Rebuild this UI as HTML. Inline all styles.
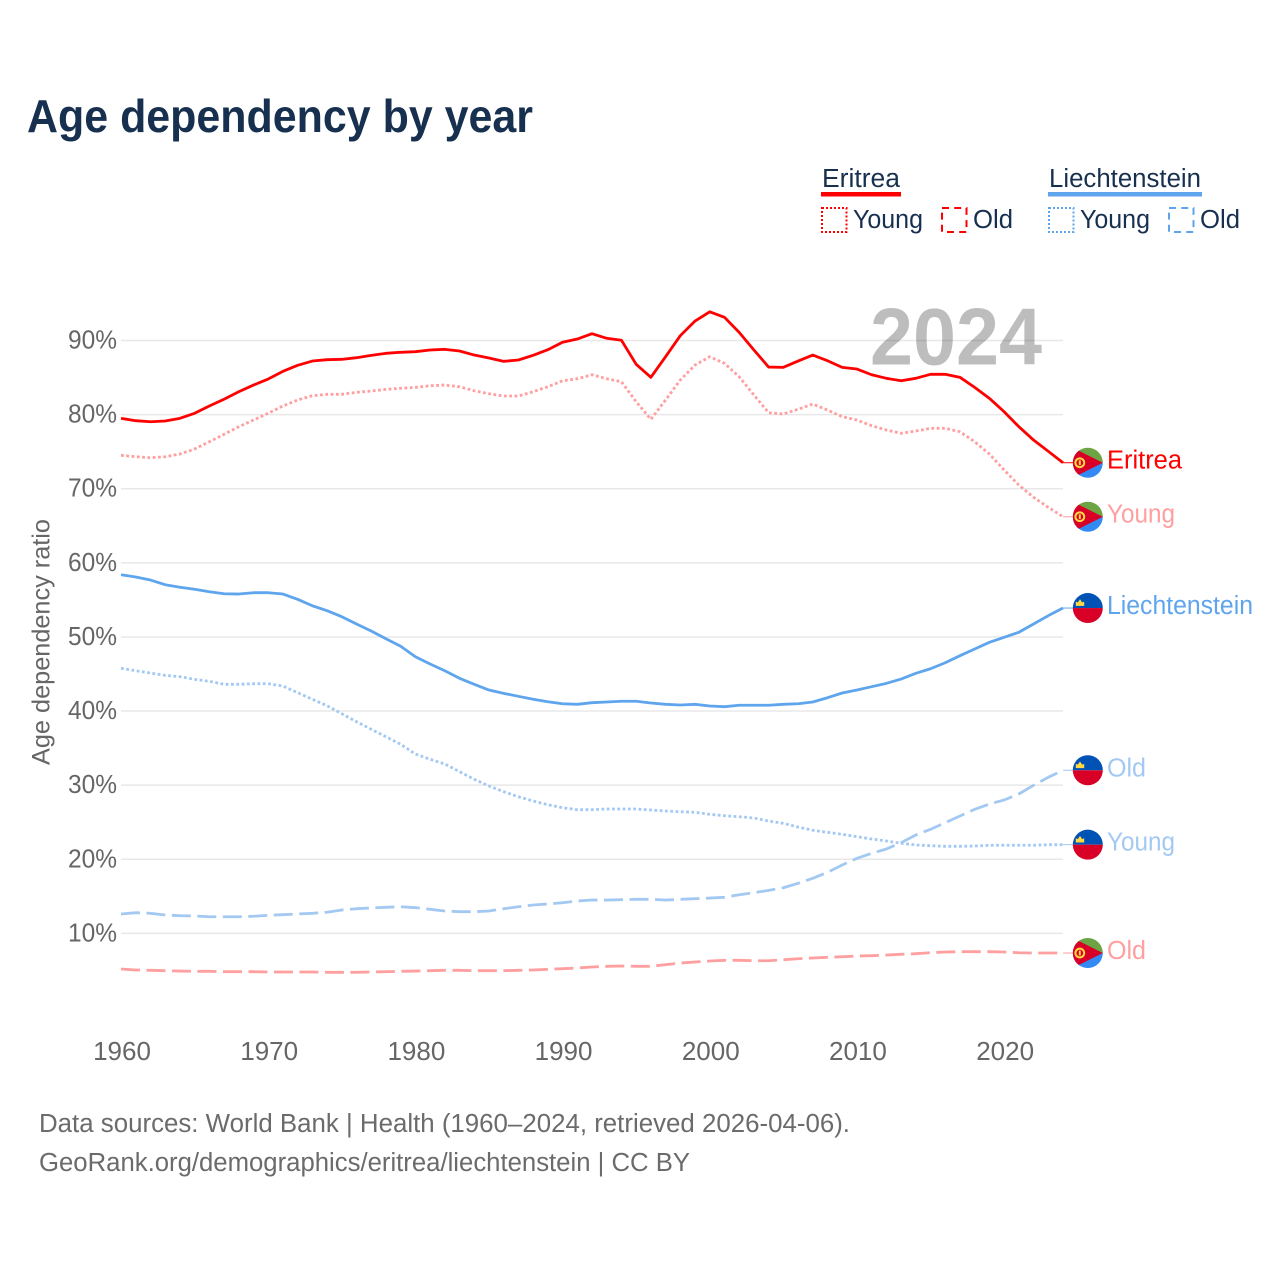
<!DOCTYPE html>
<html lang="en">
<head>
<meta charset="utf-8">
<title>Age dependency by year</title>
<style>
html,body{margin:0;padding:0;background:#fff;width:1280px;height:1280px;overflow:hidden}
svg{display:block}
text{font-family:"Liberation Sans",sans-serif}
</style>
</head>
<body>
<svg id="chart" width="1280" height="1280" viewBox="0 0 1280 1280" xmlns="http://www.w3.org/2000/svg">
  <defs>
    <clipPath id="flag-clip"><circle cx="0" cy="0" r="15"/></clipPath>
    <g id="flag-eritrea" clip-path="url(#flag-clip)">
      <rect x="-16" y="-16" width="32" height="16" fill="#6da544"/>
      <rect x="-16" y="0" width="32" height="16" fill="#338af3"/>
      <polygon points="-15,-15 15,0 -15,15" fill="#d80027"/>
      <circle cx="-8" cy="0" r="4.4" fill="none" stroke="#ffda44" stroke-width="2"/>
      <rect x="-9" y="-2.4" width="2" height="4.8" fill="#ffda44"/>
    </g>
    <g id="flag-liechtenstein" clip-path="url(#flag-clip)">
      <rect x="-16" y="-16" width="32" height="16" fill="#0052b4"/>
      <rect x="-16" y="0" width="32" height="16" fill="#d80027"/>
      <polygon points="-12,-2.2 -12,-6.4 -10,-5.6 -7.8,-8.8 -5.6,-5.6 -3.6,-6.4 -3.6,-2.2" fill="#ffda44"/>
    </g>
  </defs>

  <text x="27" y="132" font-size="46.5" font-weight="700" fill="#17304f" textLength="506" lengthAdjust="spacingAndGlyphs">Age dependency by year</text>

  <g>
    <text x="822" y="187" font-size="25.5" fill="#17304f" textLength="78" lengthAdjust="spacingAndGlyphs">Eritrea</text>
    <rect x="821" y="192" width="80" height="4.5" fill="#ff0000"/>
    <rect x="822" y="208" width="24.5" height="24" fill="none" stroke="#ff0000" stroke-width="2" stroke-dasharray="2 2"/>
    <text x="853" y="228" font-size="25.5" fill="#17304f" textLength="70" lengthAdjust="spacingAndGlyphs">Young</text>
    <rect x="942" y="208" width="24.5" height="24" fill="none" stroke="#ff0000" stroke-width="2" stroke-dasharray="7 5.2"/>
    <text x="973" y="228" font-size="25.5" fill="#17304f" textLength="40" lengthAdjust="spacingAndGlyphs">Old</text>

    <text x="1049" y="187" font-size="25.5" fill="#17304f" textLength="152" lengthAdjust="spacingAndGlyphs">Liechtenstein</text>
    <rect x="1048" y="192" width="154" height="4.5" fill="#5ea5ee"/>
    <rect x="1049" y="208" width="24.5" height="24" fill="none" stroke="#5ea5ee" stroke-width="2" stroke-dasharray="2 2"/>
    <text x="1080" y="228" font-size="25.5" fill="#17304f" textLength="70" lengthAdjust="spacingAndGlyphs">Young</text>
    <rect x="1169" y="208" width="24.5" height="24" fill="none" stroke="#5ea5ee" stroke-width="2" stroke-dasharray="7 5.2"/>
    <text x="1200" y="228" font-size="25.5" fill="#17304f" textLength="40" lengthAdjust="spacingAndGlyphs">Old</text>
  </g>

  <g id="grid"></g>
  <g id="y-ticks"></g>
  <g id="x-ticks"></g>
  <text transform="translate(49.5,765) rotate(-90)" font-size="25" fill="#666666" textLength="246" lengthAdjust="spacingAndGlyphs">Age dependency ratio</text>

  <text x="870" y="364.5" font-size="81" font-weight="700" fill="#000000" fill-opacity="0.26" textLength="172" lengthAdjust="spacingAndGlyphs">2024</text>

  <g id="series"></g>
  <g id="end-labels"></g>

  <text x="39" y="1132" font-size="25.5" fill="#6b6b6b" textLength="811" lengthAdjust="spacingAndGlyphs">Data sources: World Bank | Health (1960–2024, retrieved 2026-04-06).</text>
  <text x="39" y="1171" font-size="25.5" fill="#6b6b6b" textLength="651" lengthAdjust="spacingAndGlyphs">GeoRank.org/demographics/eritrea/liechtenstein | CC BY</text>
</svg>

<script>
const firstYear = 1960;
const lastYear = 2024;
const xTickYears = [1960, 1970, 1980, 1990, 2000, 2010, 2020];
const yTickValues = [10, 20, 30, 40, 50, 60, 70, 80, 90];

const eritreaTotal = [79.50,79.18,79.04,79.14,79.50,80.18,81.16,82.07,83.09,83.99,84.80,85.84,86.65,87.23,87.41,87.46,87.68,88.00,88.27,88.41,88.49,88.72,88.81,88.58,88.04,87.64,87.19,87.37,88.00,88.76,89.76,90.20,90.92,90.30,90.03,86.79,85.03,87.81,90.65,92.63,93.88,93.13,91.10,88.72,86.42,86.38,87.23,88.04,87.27,86.38,86.15,85.38,84.90,84.57,84.90,85.44,85.44,85.03,83.68,82.20,80.39,78.37,76.57,75.05,73.51];
const eritreaYoung = [74.51,74.32,74.18,74.32,74.68,75.36,76.34,77.34,78.37,79.27,80.18,81.16,81.97,82.55,82.74,82.74,83.01,83.18,83.41,83.55,83.68,83.90,83.99,83.76,83.22,82.82,82.51,82.51,83.09,83.76,84.57,84.84,85.38,84.84,84.44,81.74,79.37,81.97,84.67,86.69,87.81,86.92,85.11,82.64,80.26,80.08,80.72,81.43,80.62,79.72,79.27,78.50,77.92,77.48,77.79,78.15,78.15,77.69,76.34,74.68,72.52,70.50,68.84,67.49,66.22];
const eritreaOld = [5.19,5.06,5.02,4.97,4.92,4.88,4.88,4.83,4.83,4.83,4.79,4.79,4.79,4.79,4.75,4.75,4.75,4.79,4.83,4.88,4.92,4.97,5.02,5.02,4.97,4.97,4.97,5.02,5.06,5.15,5.24,5.33,5.46,5.56,5.60,5.56,5.56,5.78,6.00,6.14,6.27,6.37,6.37,6.31,6.31,6.45,6.58,6.68,6.77,6.85,6.95,6.99,7.08,7.18,7.26,7.39,7.49,7.53,7.53,7.53,7.49,7.39,7.35,7.35,7.35];
const liechtensteinTotal = [58.40,58.09,57.68,57.05,56.70,56.43,56.10,55.83,55.79,55.97,55.97,55.79,55.08,54.21,53.54,52.73,51.75,50.80,49.76,48.74,47.33,46.35,45.44,44.42,43.61,42.84,42.39,41.99,41.59,41.26,40.99,40.91,41.13,41.22,41.32,41.32,41.09,40.91,40.82,40.91,40.68,40.59,40.78,40.78,40.78,40.91,40.99,41.22,41.80,42.44,42.84,43.29,43.74,44.32,45.09,45.71,46.52,47.47,48.37,49.28,49.95,50.63,51.75,52.87,53.90];
const liechtensteinYoung = [45.77,45.44,45.13,44.82,44.64,44.28,44.01,43.61,43.61,43.69,43.69,43.38,42.48,41.59,40.72,39.64,38.56,37.54,36.54,35.51,34.20,33.49,32.86,31.82,30.79,29.89,29.12,28.44,27.86,27.36,26.96,26.69,26.69,26.78,26.78,26.78,26.65,26.51,26.42,26.34,26.07,25.88,25.74,25.57,25.16,24.85,24.35,23.91,23.64,23.37,23.05,22.74,22.47,22.16,21.93,21.83,21.75,21.75,21.79,21.89,21.89,21.89,21.89,21.97,21.97];
const liechtensteinOld = [12.62,12.79,12.71,12.48,12.39,12.35,12.25,12.25,12.25,12.31,12.44,12.52,12.62,12.71,12.85,13.16,13.33,13.43,13.52,13.60,13.47,13.25,13.02,12.93,12.93,13.02,13.33,13.60,13.83,13.97,14.14,14.37,14.50,14.50,14.55,14.60,14.60,14.50,14.60,14.68,14.77,14.87,15.22,15.49,15.81,16.16,16.76,17.43,18.24,19.23,20.13,20.81,21.39,22.24,23.28,24.04,24.94,25.84,26.74,27.46,28.00,28.81,29.98,31.06,32.01];

const NS = 'http://www.w3.org/2000/svg';
function xScale(year) { return 121 + (year - firstYear) * (1063 - 121) / (lastYear - firstYear); }
function yScale(value) { return 1007.5 - value * 7.411; }

const gridGroup = document.getElementById('grid');
const yTickGroup = document.getElementById('y-ticks');
const xTickGroup = document.getElementById('x-ticks');
const seriesGroup = document.getElementById('series');
const labelGroup = document.getElementById('end-labels');

yTickValues.forEach(function (v) {
  const line = document.createElementNS(NS, 'line');
  
  
  line.setAttribute('x1', xScale(firstYear));
  line.setAttribute('x2', xScale(lastYear));
  line.setAttribute('y1', yScale(v));
  line.setAttribute('y2', yScale(v));
  line.setAttribute('stroke', '#e8e8e8');
  line.setAttribute('stroke-width', '1.5');
  gridGroup.appendChild(line);

  const t = document.createElementNS(NS, 'text');
  
  
  t.setAttribute('x', 68);
  t.setAttribute('y', yScale(v) + 8);
  t.setAttribute('font-size', '25.5');
  t.setAttribute('fill', '#666666');
  t.setAttribute('textLength', '49');
  t.setAttribute('lengthAdjust', 'spacingAndGlyphs');
  t.textContent = v + '%';
  yTickGroup.appendChild(t);
});

xTickYears.forEach(function (yr) {
  const t = document.createElementNS(NS, 'text');
  
  
  t.setAttribute('x', xScale(yr) + 1);
  t.setAttribute('y', 1060);
  t.setAttribute('font-size', '26');
  t.setAttribute('fill', '#666666');
  t.setAttribute('text-anchor', 'middle');
  t.textContent = yr;
  xTickGroup.appendChild(t);
});

const seriesList = [
  { key: 'eritrea-old', values: eritreaOld, color: '#ff9f9f', dash: '19 6.5', flag: 'flag-eritrea', label: 'Old', labelWidth: 39 },
  { key: 'liechtenstein-old', values: liechtensteinOld, color: '#a3c9f3', dash: '19 6.5', flag: 'flag-liechtenstein', label: 'Old', labelWidth: 39 },
  { key: 'eritrea-young', values: eritreaYoung, color: '#ff9f9f', dash: '2.8 2.5', flag: 'flag-eritrea', label: 'Young', labelWidth: 68 },
  { key: 'liechtenstein-young', values: liechtensteinYoung, color: '#a3c9f3', dash: '2.8 2.5', flag: 'flag-liechtenstein', label: 'Young', labelWidth: 68 },
  { key: 'eritrea-total', values: eritreaTotal, color: '#ff0000', dash: '', flag: 'flag-eritrea', label: 'Eritrea', labelWidth: 75 },
  { key: 'liechtenstein-total', values: liechtensteinTotal, color: '#5ea5ee', dash: '', flag: 'flag-liechtenstein', label: 'Liechtenstein', labelWidth: 146 }
];

seriesList.forEach(function (s) {
  const d = s.values.map(function (v, i) {
    return (i ? 'L' : 'M') + xScale(firstYear + i).toFixed(2) + ' ' + yScale(v).toFixed(2);
  }).join(' ');
  const path = document.createElementNS(NS, 'path');
  
  
  path.setAttribute('d', d);
  path.setAttribute('fill', 'none');
  path.setAttribute('stroke', s.color);
  path.setAttribute('stroke-width', '2.8');
  path.setAttribute('stroke-linejoin', 'round');
  if (s.dash) path.setAttribute('stroke-dasharray', s.dash);
  seriesGroup.appendChild(path);

  const endY = yScale(s.values[s.values.length - 1]);
  const leader = document.createElementNS(NS, 'line');
  
  
  leader.setAttribute('x1', xScale(lastYear));
  leader.setAttribute('x2', 1073);
  leader.setAttribute('y1', endY);
  leader.setAttribute('y2', endY);
  leader.setAttribute('stroke', s.color);
  leader.setAttribute('stroke-width', '1');
  labelGroup.appendChild(leader);

  const flag = document.createElementNS(NS, 'use');
  
  
  flag.setAttribute('href', '#' + s.flag);
  flag.setAttribute('transform', 'translate(1087.8,' + endY + ')');
  labelGroup.appendChild(flag);

  const text = document.createElementNS(NS, 'text');
  
  
  text.setAttribute('x', 1107);
  text.setAttribute('y', endY + 6);
  text.setAttribute('font-size', '25.5');
  text.setAttribute('fill', s.color);
  text.setAttribute('textLength', s.labelWidth);
  text.setAttribute('lengthAdjust', 'spacingAndGlyphs');
  text.textContent = s.label;
  labelGroup.appendChild(text);
});
</script>
</body>
</html>
